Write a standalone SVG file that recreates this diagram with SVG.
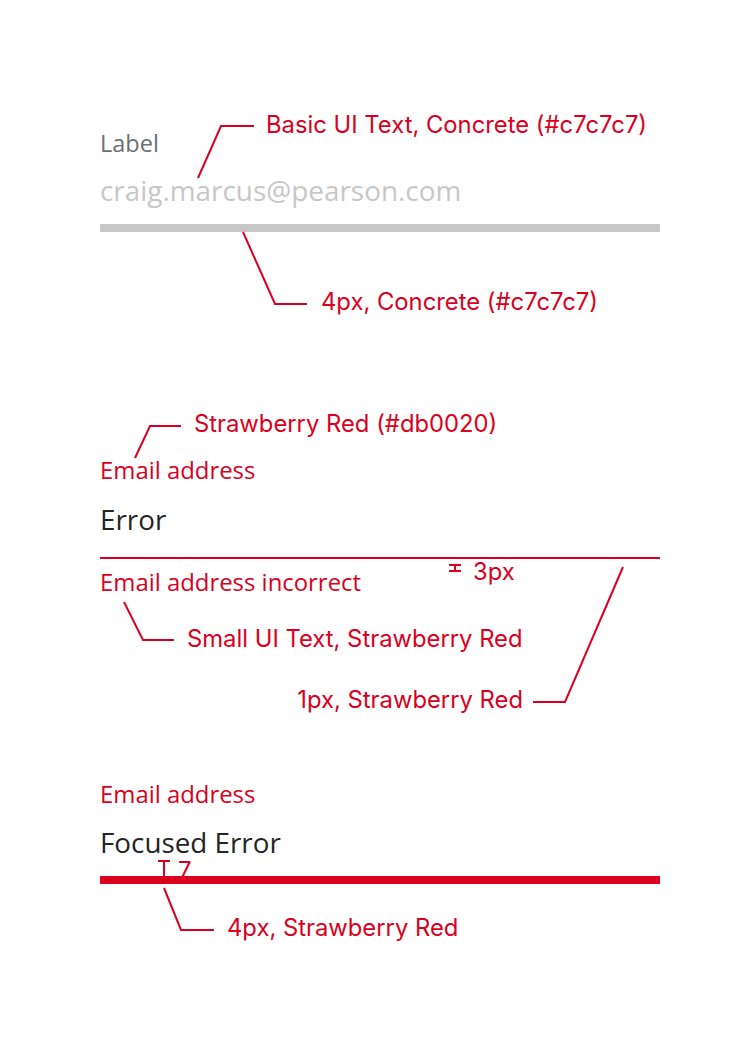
<svg xmlns="http://www.w3.org/2000/svg" width="740" height="1040" viewBox="0 0 740 1040">
<style>
.ui{font-family:"Open Sans","Noto Sans",sans-serif}
.ann{font-family:Inter,"Noto Sans",sans-serif;font-size:23.8px;fill:#db0020}
.lead{fill:none;stroke:#db0020;stroke-width:2}
.red{fill:#db0020}
</style>
<rect width="740" height="1040" fill="#ffffff"/>
<g id="basic-field">
<text class="ui" x="100" y="152" font-size="23.5" fill="#6a7070">Label</text>
<text class="ui" x="100" y="201" font-size="27.9" fill="#c7c7c7">craig.marcus@pearson.com</text>
<rect x="100" y="224" width="560" height="8" fill="#c7c7c7"/>
</g>
<g id="error-field">
<text class="ui red" x="100" y="479" font-size="23.9">Email address</text>
<text class="ui" x="100" y="530" font-size="27.8" fill="#252525">Error</text>
<rect x="100" y="557" width="560" height="2" fill="#db0020"/>
<text class="ui red" x="100" y="591" font-size="23.9">Email address incorrect</text>
</g>
<g id="focused-field">
<text class="ui red" x="100" y="803" font-size="23.9">Email address</text>
<text class="ui" x="100" y="853" font-size="27.8" fill="#252525">Focused Error</text>
<text class="ann" x="178" y="879" font-size="20">7</text>
<rect x="100" y="876" width="560" height="8" fill="#db0020"/>
</g>
<g id="annotations">
<text class="ann" x="266" y="133">Basic UI Text, Concrete (#c7c7c7)</text>
<text class="ann" x="321" y="310">4px, Concrete (#c7c7c7)</text>
<text class="ann" x="194" y="432">Strawberry Red (#db0020)</text>
<text class="ann" x="473" y="580">3px</text>
<text class="ann" x="187" y="647">Small UI Text, Strawberry Red</text>
<text class="ann" x="523" y="708" text-anchor="end">1px, Strawberry Red</text>
<text class="ann" x="227" y="936">4px, Strawberry Red</text>
</g>
<g id="connectors">
<polyline class="lead" points="198,178 221,126 254,126"/>
<polyline class="lead" points="243,232 275,304 307,304"/>
<polyline class="lead" points="135,458 150,426 181,426"/>
<polyline class="lead" points="124,602 143,640 174,640"/>
<polyline class="lead" points="623,567 565,702 533,702"/>
<polyline class="lead" points="164,888 181,930 214,930"/>
<path class="lead" d="M449,565 H461 M455,565 V571 M449,571 H461"/>
<path class="lead" d="M158,861 H170 M164,861 V876"/>
</g>
</svg>
